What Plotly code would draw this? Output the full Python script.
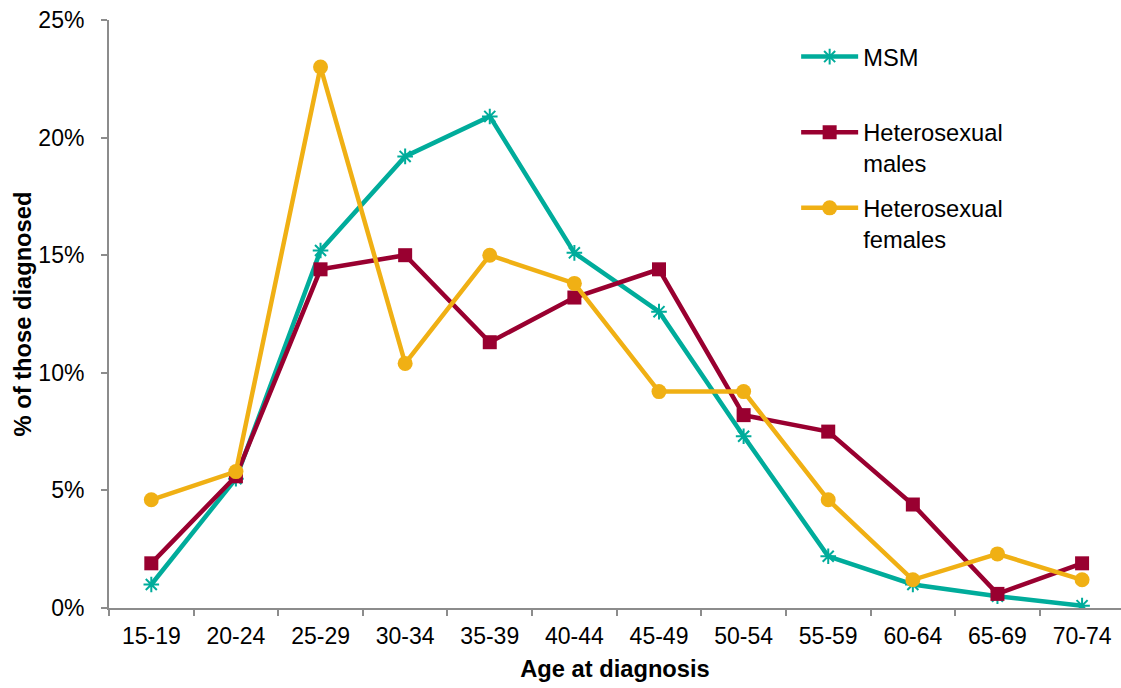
import plotly.graph_objects as go

age_groups = ["15-19", "20-24", "25-29", "30-34", "35-39", "40-44",
              "45-49", "50-54", "55-59", "60-64", "65-69", "70-74"]

msm = [1.0, 5.5, 15.2, 19.2, 20.9, 15.1, 12.6, 7.3, 2.2, 1.0, 0.5, 0.1]
het_males = [1.9, 5.6, 14.4, 15.0, 11.3, 13.2, 14.4, 8.2, 7.5, 4.4, 0.6, 1.9]
het_females = [4.6, 5.8, 23.0, 10.4, 15.0, 13.8, 9.2, 9.2, 4.6, 1.2, 2.3, 1.2]

TEAL = "#00AC9B"
MAROON = "#990030"
GOLD = "#F0B014"
FONT = "Liberation Sans, Arial, sans-serif"
TICK_SIZE = 23
TEXT_SIZE = 23.7

fig = go.Figure()

fig.add_trace(go.Scatter(
    x=age_groups, y=msm, name="MSM<br> ", mode="lines+markers",
    legendgroup="a",
    line=dict(color=TEAL, width=4.5),
    marker=dict(symbol="asterisk-open", size=13, color=TEAL,
                line=dict(color=TEAL, width=2)),
))
fig.add_trace(go.Scatter(
    x=age_groups, y=het_males, name="Heterosexual<br>males", mode="lines+markers",
    legendgroup="b",
    line=dict(color=MAROON, width=4.5),
    marker=dict(symbol="square", size=14, color=MAROON),
))
fig.add_trace(go.Scatter(
    x=age_groups, y=het_females, name="Heterosexual<br>females", mode="lines+markers",
    legendgroup="c",
    line=dict(color=GOLD, width=4.5),
    marker=dict(symbol="circle", size=15, color=GOLD),
))

fig.update_layout(
    width=1121, height=688,
    margin=dict(l=109, r=0, t=20, b=80),
    paper_bgcolor="white", plot_bgcolor="white",
    font=dict(family=FONT, size=TEXT_SIZE, color="#000000"),
    showlegend=True,
    legend=dict(
        x=0.679, y=0.975, xanchor="left", yanchor="top",
        bgcolor="rgba(0,0,0,0)", valign="top",
        traceorder="grouped", tracegroupgap=11,
        font=dict(family=FONT, size=TEXT_SIZE, color="#000000"),
        itemwidth=57,
    ),
    xaxis=dict(
        type="category", range=[-0.5, 11.46],
        showline=True, linecolor="#8C8C8C", linewidth=2,
        ticks="outside", tickson="boundaries", ticklen=6,
        tickcolor="#8C8C8C", tickwidth=2,
        ticklabelstandoff=6,
        showgrid=False, zeroline=False,
        tickfont=dict(family=FONT, size=TICK_SIZE, color="#000000"),
        title=dict(text="<b>Age at diagnosis</b>", standoff=13,
                   font=dict(family=FONT, size=TEXT_SIZE, color="#000000")),
    ),
    yaxis=dict(
        range=[0, 25], dtick=5, ticksuffix="%",
        showline=True, linecolor="#8C8C8C", linewidth=2,
        ticks="outside", ticklen=6, tickcolor="#8C8C8C", tickwidth=2,
        ticklabelstandoff=12,
        showgrid=False, zeroline=False,
        tickfont=dict(family=FONT, size=TICK_SIZE, color="#000000"),
        title=dict(text="<b>% of those diagnosed</b>", standoff=0,
                   font=dict(family=FONT, size=TEXT_SIZE, color="#000000")),
    ),
)

fig.write_html("out.html")
